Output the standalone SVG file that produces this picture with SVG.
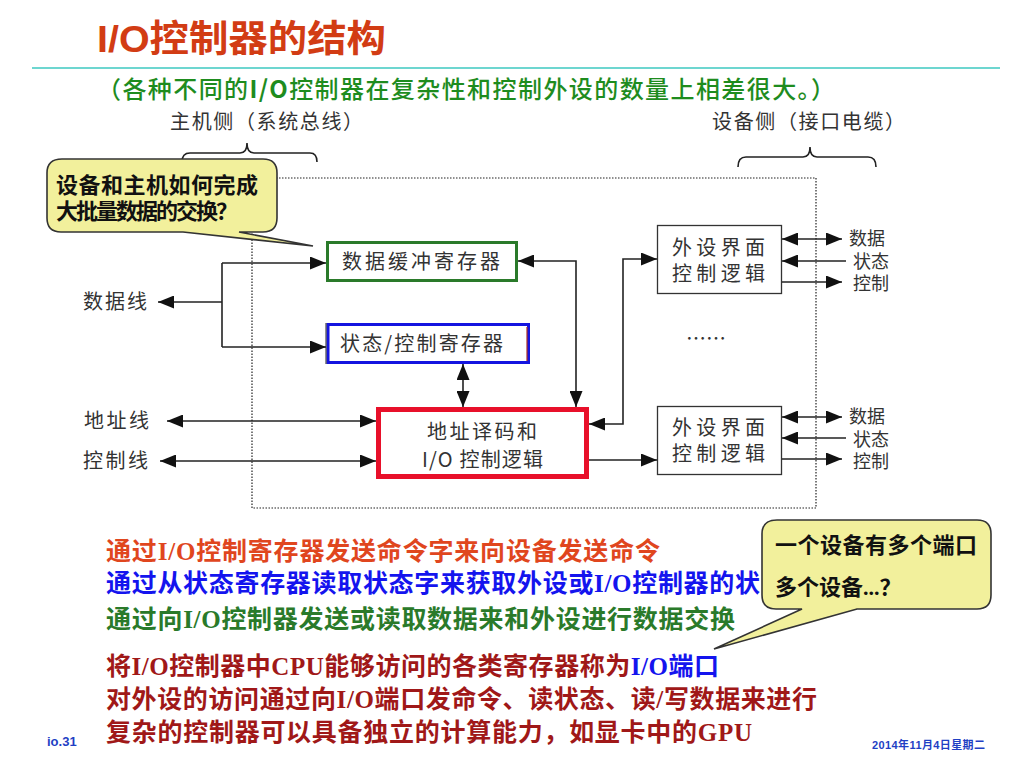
<svg xmlns="http://www.w3.org/2000/svg" width="1024" height="768" viewBox="0 0 1024 768">
<defs>
<marker id="ah" markerUnits="userSpaceOnUse" markerWidth="17" markerHeight="13" refX="16" refY="6.5" orient="auto-start-reverse" viewBox="0 0 17 13">
<path d="M0,0 L16,6.5 L0,13 z" fill="#111"/>
</marker>
</defs>
<style>
.dg{font-family:"Noto Sans CJK SC","Liberation Sans",sans-serif;fill:#333;font-size:20px}
.sm{font-size:18px}
.ln{stroke:#222;stroke-width:1.6;fill:none}
.ar{marker-end:url(#ah)}
.da{marker-start:url(#ah);marker-end:url(#ah)}
.bt{font-family:"Liberation Serif","Noto Sans CJK SC",serif;font-weight:bold;font-size:25px}
.co{fill:#f2f09c;stroke:#333;stroke-width:1.6}
.ct{font-family:"Liberation Serif","Noto Sans CJK SC",serif;font-weight:bold;font-size:22px;fill:#111}
.ft{font-family:"Liberation Sans","Noto Sans CJK SC",sans-serif;font-weight:bold;fill:#1f3fc4}
</style>
<rect width="1024" height="768" fill="#fff"/>

<g id="title">
<text x="97" y="52" font-family="Liberation Sans,Noto Sans CJK SC,sans-serif" font-weight="bold" font-size="37" fill="#d23c14" textLength="289" lengthAdjust="spacingAndGlyphs">I/O控制器的结构</text>
<line x1="32" y1="68" x2="1000" y2="68" stroke="#3cc8c0" stroke-width="1.6"/>
<text x="97" y="98" font-family="Noto Sans CJK SC,sans-serif" font-weight="500" font-size="24" fill="#1e8c1e" textLength="738" lengthAdjust="spacing">（各种不同的<tspan font-weight="bold">I/O</tspan>控制器在复杂性和控制外设的数量上相差很大。）</text>
</g>

<g id="side-labels">
<text class="dg" x="170" y="129" font-size="18" textLength="193" lengthAdjust="spacing">主机侧（系统总线）</text>
<text class="dg" x="712" y="129" font-size="18" textLength="193" lengthAdjust="spacing">设备侧（接口电缆）</text>
<path class="ln" stroke-width="1.3" d="M182,162 Q182,153 190,153 L240,153 Q247,153 247,143 Q247,153 254,153 L310,153 Q317,153 317,162"/>
<path class="ln" stroke-width="1.3" d="M738,167 Q738,157 746,157 L803,157 Q810,157 810,147 Q810,157 817,157 L868,157 Q876,157 876,167"/>
</g>

<rect id="controller-boundary" x="252" y="178" width="564" height="330" fill="none" stroke="#222" stroke-width="1.2" stroke-dasharray="1.5,1.5"/>

<g id="connectors">
<path class="ln ar" d="M222,302 L158,302"/>
<path class="ln" d="M222,263 L222,347"/>
<path class="ln ar" d="M222,263 L326,263"/>
<path class="ln ar" d="M222,347 L326,347"/>
<path class="ln da" d="M167,421 L376,421"/>
<path class="ln da" d="M160,461 L376,461"/>
<path class="ln da" d="M463,364 L463,407"/>
<path class="ln da" d="M518,261 L576,261 L576,407"/>
<path class="ln da" d="M657,259 L623,259 L623,424 L589,424"/>
<path class="ln ar" d="M589,460 L657,460"/>
<path class="ln da" d="M782,239 L842,239"/>
<path class="ln ar" d="M846,261 L782,261"/>
<path class="ln ar" d="M782,282 L842,282"/>
<path class="ln da" d="M782,417 L842,417"/>
<path class="ln ar" d="M846,438 L782,438"/>
<path class="ln ar" d="M782,459 L842,459"/>
</g>

<g id="line-labels">
<text class="dg" x="83" y="309" textLength="64" lengthAdjust="spacing">数据线</text>
<text class="dg" x="84" y="428" textLength="65" lengthAdjust="spacing">地址线</text>
<text class="dg" x="83" y="468" textLength="65" lengthAdjust="spacing">控制线</text>
</g>

<g id="data-buffer">
<rect x="327.5" y="242.5" width="189" height="38" fill="#fff" stroke="#2a7a2a" stroke-width="3"/>
<text class="dg" x="342" y="269" textLength="158" lengthAdjust="spacing">数据缓冲寄存器</text>
</g>

<g id="status-control">
<rect x="328" y="324.5" width="200.5" height="38" fill="#fff" stroke="#1414e0" stroke-width="3"/>
<line x1="326" y1="323" x2="326" y2="364" stroke="#222" stroke-width="1"/>
<line x1="527" y1="327" x2="527" y2="361" stroke="#b03020" stroke-width="1.2"/>
<text class="dg" x="340" y="351" textLength="163" lengthAdjust="spacing">状态/控制寄存器</text>
</g>

<g id="decode-logic">
<rect x="378.5" y="409.5" width="208" height="67" fill="#fff" stroke="#e8102a" stroke-width="5"/>
<text class="dg" x="427" y="439" textLength="110" lengthAdjust="spacing">地址译码和</text>
<text class="dg" x="422" y="467" textLength="121" lengthAdjust="spacing">I/O 控制逻辑</text>
</g>

<g id="device-if-1">
<rect x="657.5" y="225.5" width="124" height="68" fill="#fff" stroke="#333" stroke-width="1.3"/>
<text class="dg" x="672" y="255" textLength="93" lengthAdjust="spacing">外设界面</text>
<text class="dg" x="672" y="281" textLength="93" lengthAdjust="spacing">控制逻辑</text>
<text class="dg sm" x="849" y="245">数据</text>
<text class="dg sm" x="853" y="268">状态</text>
<text class="dg sm" x="853" y="290">控制</text>
</g>

<text class="dg" x="686" y="346">……</text>

<g id="device-if-2">
<rect x="657.5" y="406.5" width="124" height="68" fill="#fff" stroke="#333" stroke-width="1.3"/>
<text class="dg" x="672" y="435" textLength="93" lengthAdjust="spacing">外设界面</text>
<text class="dg" x="672" y="461" textLength="93" lengthAdjust="spacing">控制逻辑</text>
<text class="dg sm" x="849" y="423">数据</text>
<text class="dg sm" x="853" y="446">状态</text>
<text class="dg sm" x="853" y="468">控制</text>
</g>

<g id="callout-1">
<path class="co" d="M62,159 L263,159 Q277,159 277,173 L277,218 Q277,232 263,232 L239,232 L313,246 L183,232 L61,232 Q47,232 47,218 L47,173 Q47,159 62,159 z"/>
<text class="ct" x="56" y="193" font-family="Noto Sans CJK SC,sans-serif" font-size="21" textLength="202" lengthAdjust="spacing">设备和主机如何完成</text>
<text class="ct" x="56" y="219" font-family="Noto Sans CJK SC,sans-serif" font-size="21" textLength="182" lengthAdjust="spacing">大批量数据的交换？</text>
</g>

<g id="notes">
<text class="bt" x="106" y="560" fill="#e0461e" textLength="554" lengthAdjust="spacing">通过I/O控制寄存器发送命令字来向设备发送命令</text>
<text class="bt" x="106" y="592" fill="#1414ee" textLength="654" lengthAdjust="spacing">通过从状态寄存器读取状态字来获取外设或I/O控制器的状</text>
<text class="bt" x="106" y="628" fill="#2a7a2a" textLength="629" lengthAdjust="spacing">通过向I/O控制器发送或读取数据来和外设进行数据交换</text>
<text class="bt" x="106" y="675" fill="#a01818" textLength="613" lengthAdjust="spacing">将I/O控制器中CPU能够访问的各类寄存器称为<tspan fill="#1414ee">I/O端口</tspan></text>
<text class="bt" x="106" y="708" fill="#a01818" textLength="711" lengthAdjust="spacing">对外设的访问通过向I/O端口发命令、读状态、读/写数据来进行</text>
<text class="bt" x="106" y="741" fill="#a01818" textLength="646" lengthAdjust="spacing">复杂的控制器可以具备独立的计算能力，如显卡中的GPU</text>
</g>

<g id="callout-2">
<path class="co" d="M777,520 L977,520 Q991,520 991,534 L991,595 Q991,609 977,609 L857,609 L714,649 L802,609 L776,609 Q762,609 762,595 L762,534 Q762,520 777,520 z"/>
<text class="ct" x="775" y="553" textLength="202" lengthAdjust="spacing">一个设备有多个端口</text>
<text class="ct" x="775" y="595">多个设备...？</text>
</g>

<g id="footer">
<text class="ft" x="47" y="746" font-size="13">io.31</text>
<text class="ft" x="872" y="749" font-size="11" textLength="113" lengthAdjust="spacing">2014年11月4日星期二</text>
</g>
</svg>
